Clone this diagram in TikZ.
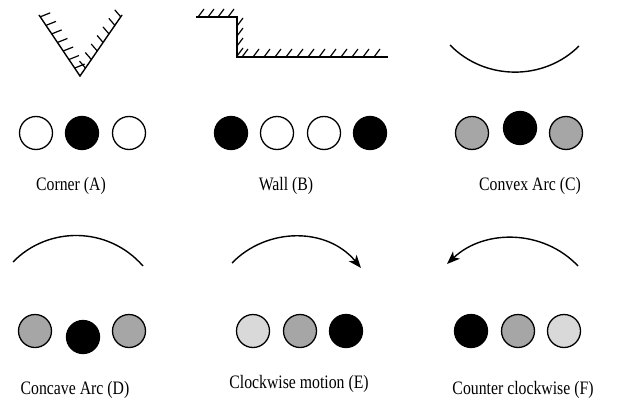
\documentclass[tikz,border=0pt]{standalone}
\usepackage{fontspec}
\setmainfont{Liberation Serif}
\usetikzlibrary{calc,arrows.meta}
\tikzset{
  wire/.style={line width=1.4pt, line cap=butt},
  hatch/.style={line width=1.2pt},
  disc/.style={circle, draw=black, line width=1.3pt, minimum size=33pt, inner sep=0pt},
  blk/.style={disc, fill=black},
  wht/.style={disc, fill=white},
  gry/.style={disc, fill=black!35},
  lgry/.style={disc, fill=black!15},
  lbl/.style={font=\fontsize{19}{22}\selectfont, inner sep=0pt, xscale=0.83},
  arr/.style={wire, -{Stealth[length=13pt, width=10pt, inset=3.5pt]}}
}
\begin{document}
\begin{tikzpicture}[x=1pt,y=-1pt]
\useasboundingbox (0,0) rectangle (628,409);

% ---- Corner (A)
\coordinate (vl) at (39,15);
\coordinate (vb) at (80,76);
\coordinate (vr) at (122,15);
\draw[wire] (vl) -- (vb) -- (vr);
\foreach \t in {0.03,0.17,0.31,0.45,0.59,0.73,0.87}
  \draw[hatch] ($(vl)!\t!(vb)$) -- ++(10,-4);
\foreach \t in {0.03,0.17,0.31,0.45,0.59,0.73,0.87}
  \draw[hatch] ($(vr)!\t!(vb)$) -- ++(-6,-7);
\node[wht] (a1) at (36,133) {};
\node[blk] (a2) at (82,133) {};
\node[wht] (a3) at (129,133) {};
\node[lbl] (la) at (71,186) {Corner (A)};

% ---- Wall (B)
\coordinate (w1) at (196,17);
\coordinate (w2) at (237,17);
\coordinate (w3) at (237,57);
\coordinate (w4) at (388,57);
\draw[wire] (w1) -- (w2) -- (w3) -- (w4);
\foreach \x in {198,208,218,228}
  \draw[hatch] (\x,17) -- ++(6,-8);
\foreach \y in {26,36,46,56}
  \draw[hatch] (237,\y) -- ++(6,-8);
\foreach \x in {242,253,264,275,286,297,308,319,330,341,352,363,374}
  \draw[hatch] (\x,57) -- ++(6,-8);
\node[blk] (b1) at (231,133) {};
\node[wht] (b2) at (277,133) {};
\node[wht] (b3) at (324,133) {};
\node[blk] (b4) at (370,133) {};
\node[lbl] (lb) at (286,186) {Wall (B)};

% ---- Convex Arc (C)
\coordinate (c1) at (450,45);
\coordinate (c2) at (579,46);
\draw[wire] (c1) .. controls (485,81) and (544,81) .. (c2);
\node[gry] (cc1) at (472,133) {};
\node[blk] (cc2) at (520,128) {};
\node[gry] (cc3) at (566,133) {};
\node[lbl] (lc) at (530,186) {Convex Arc (C)};

% ---- Concave Arc (D)
\coordinate (d1) at (13,262);
\coordinate (d2) at (143,266);
\draw[wire] (d1) .. controls (48,226) and (108,226) .. (d2);
\node[gry] (dd1) at (35,331) {};
\node[blk] (dd2) at (83,337) {};
\node[gry] (dd3) at (129,331) {};
\node[lbl] (ld) at (75,390) {Concave Arc (D)};

% ---- Clockwise motion (E)
\coordinate (e1) at (232,263);
\coordinate (e2) at (361,268);
\draw[arr] (e1) .. controls (267,227) and (327,227) .. (e2);
\node[lgry] (ee1) at (253,331) {};
\node[gry] (ee2) at (300,331) {};
\node[blk] (ee3) at (346,331) {};
\node[lbl] (le) at (299,384) {Clockwise motion (E)};

% ---- Counter clockwise (F)
\coordinate (f1) at (578,266);
\coordinate (f2) at (447,264);
\draw[arr] (f1) .. controls (543,229) and (484,229) .. (f2);
\node[blk] (ff1) at (471,331) {};
\node[gry] (ff2) at (518,331) {};
\node[lgry] (ff3) at (564,331) {};
\node[lbl] (lf) at (523,390) {Counter clockwise (F)};
\end{tikzpicture}
\end{document}
